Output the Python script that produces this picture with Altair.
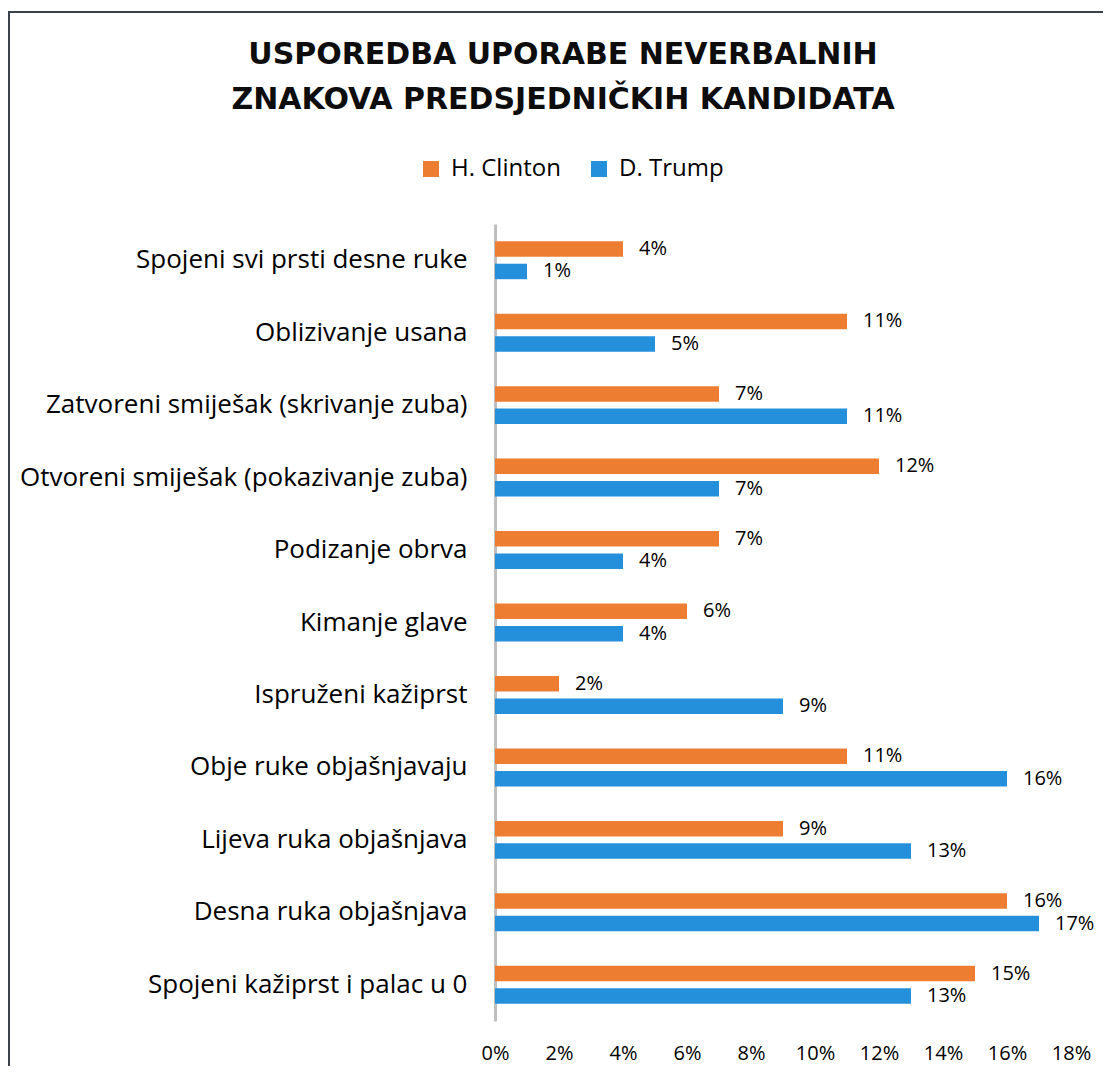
import altair as alt
import pandas as pd

categories = [
    "Spojeni svi prsti desne ruke",
    "Oblizivanje usana",
    "Zatvoreni smiješak (skrivanje zuba)",
    "Otvoreni smiješak (pokazivanje zuba)",
    "Podizanje obrva",
    "Kimanje glave",
    "Ispruženi kažiprst",
    "Obje ruke objašnjavaju",
    "Lijeva ruka objašnjava",
    "Desna ruka objašnjava",
    "Spojeni kažiprst i palac u 0",
]
clinton = [4, 11, 7, 12, 7, 6, 2, 11, 9, 16, 15]
trump = [1, 5, 11, 7, 4, 4, 9, 16, 13, 17, 13]
series = ["H. Clinton", "D. Trump"]
colors = ["#ED7D31", "#2490DC"]
x_ticks = [0, 2, 4, 6, 8, 10, 12, 14, 16, 18]
title_lines = ["USPOREDBA UPORABE NEVERBALNIH", "ZNAKOVA PREDSJEDNIČKIH KANDIDATA"]

rows = []
for c, a, b in zip(categories, clinton, trump):
    rows.append({"kategorija": c, "kandidat": series[0], "vrijednost": a})
    rows.append({"kategorija": c, "kandidat": series[1], "vrijednost": b})
df = pd.DataFrame(rows)

W, H = 576, 797

y_enc = alt.Y(
    "kategorija:N",
    sort=categories,
    scale=alt.Scale(paddingInner=0.38, paddingOuter=0.19),
    axis=alt.Axis(
        title=None, ticks=False, tickSize=0, labelPadding=28,
        labelFont="Open Sans", labelFontSize=26, labelColor="#000000",
        labelLimit=480, domainColor="#BFBFBF", domainWidth=3,
    ),
)
yoff_enc = alt.YOffset(
    "kandidat:N", sort=series,
    scale=alt.Scale(paddingInner=0.31, paddingOuter=0.155),
)
x_enc = alt.X(
    "vrijednost:Q",
    scale=alt.Scale(domain=[0, 18], nice=False),
    axis=alt.Axis(
        values=x_ticks, labelExpr="datum.value + '%'", title=None,
        domain=False, ticks=False, tickSize=0, grid=False, labelPadding=22,
        labelFlush=False, labelOverlap=False,
        labelFont="Open Sans", labelFontSize=20, labelColor="#000000",
    ),
)

bars = alt.Chart(df).mark_bar().encode(
    y=y_enc,
    yOffset=yoff_enc,
    x=x_enc,
    color=alt.Color(
        "kandidat:N", sort=series,
        scale=alt.Scale(domain=series, range=colors),
        legend=alt.Legend(
            title=None, orient="none", legendX=-76, legendY=-67,
            direction="horizontal", symbolType="square", symbolSize=256,
            symbolStrokeWidth=0, labelFont="Open Sans", labelFontSize=24,
            labelColor="#000000", labelOffset=8, columnPadding=26, padding=0,
        ),
    ),
)

labels = alt.Chart(df).transform_calculate(
    lbl="datum.vrijednost + '%'"
).mark_text(
    align="left", baseline="middle", dx=16,
    font="Open Sans", fontSize=20, color="#000000",
).encode(
    y=alt.Y("kategorija:N", sort=categories),
    yOffset=alt.YOffset("kandidat:N", sort=series),
    x="vrijednost:Q",
    text="lbl:N",
)

frame_df = pd.DataFrame({"k": [0]})
frame_left = alt.Chart(frame_df).mark_rule(color="#3B424D", strokeWidth=2).encode(
    x=alt.value(-486), y=alt.value(-213), y2=alt.value(850)
)
frame_top = alt.Chart(frame_df).mark_rule(color="#3B424D", strokeWidth=2).encode(
    x=alt.value(-487), x2=alt.value(W + 40), y=alt.value(-212)
)

chart = alt.layer(frame_left, frame_top, bars, labels).properties(
    width=W,
    height=H,
    autosize=alt.AutoSizeParams(type="none"),
    padding={"left": 487, "top": 216, "right": 32, "bottom": 45},
    title=alt.TitleParams(
        text=title_lines, font="DejaVu Sans", fontSize=30, fontWeight="bold",
        color="#0D0D0D", anchor="middle", frame="group", dx=-220, offset=-105,
        lineHeight=45,
    ),
).configure_view(stroke=None)

chart.save("out.html", embed_options={"renderer": "svg", "actions": False})
